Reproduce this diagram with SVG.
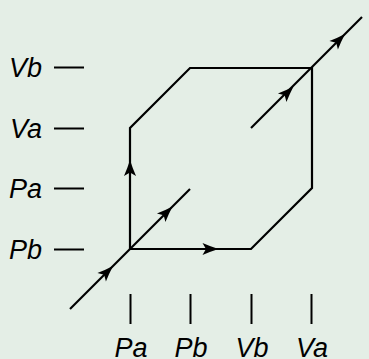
<svg xmlns="http://www.w3.org/2000/svg" xmlns:xlink="http://www.w3.org/1999/xlink" width="369" height="359" viewBox="0 0 369 359">
<style>
.ln{stroke:#000;stroke-width:2.2;fill:none;stroke-linecap:butt;stroke-linejoin:miter}
.tk{stroke:#000;stroke-width:2;fill:none}
.lb{font-family:"Liberation Sans",Arial,sans-serif;font-style:italic;font-size:27px;fill:#000}
</style>
<defs>
<path id="ah" d="M0,0 Q-8,-2.5 -16,-6 L-12.5,0 L-16,6 Q-8,2.5 0,0 Z" fill="#000"/>
</defs>
<rect width="369" height="359" fill="#e4eee6"/>
<g id="left-axis">
<g id="lab-Vb"><text class="lb" x="42" y="77" text-anchor="end">Vb</text><line class="tk" x1="54" y1="67.5" x2="84" y2="67.5"/></g>
<g id="lab-Va"><text class="lb" x="42" y="138" text-anchor="end">Va</text><line class="tk" x1="54" y1="128.5" x2="84" y2="128.5"/></g>
<g id="lab-Pa"><text class="lb" x="42" y="198" text-anchor="end">Pa</text><line class="tk" x1="54" y1="188.5" x2="84" y2="188.5"/></g>
<g id="lab-Pb"><text class="lb" x="42" y="259" text-anchor="end">Pb</text><line class="tk" x1="54" y1="249.5" x2="84" y2="249.5"/></g>
</g>
<g id="bottom-axis">
<g id="blab-Pa"><line class="tk" x1="130.5" y1="294" x2="130.5" y2="324"/><text class="lb" x="131" y="356.5" text-anchor="middle">Pa</text></g>
<g id="blab-Pb"><line class="tk" x1="190.5" y1="294" x2="190.5" y2="324"/><text class="lb" x="191" y="356.5" text-anchor="middle">Pb</text></g>
<g id="blab-Vb"><line class="tk" x1="251.5" y1="294" x2="251.5" y2="324"/><text class="lb" x="252" y="356.5" text-anchor="middle">Vb</text></g>
<g id="blab-Va"><line class="tk" x1="311.5" y1="294" x2="311.5" y2="324"/><text class="lb" x="312" y="356.5" text-anchor="middle">Va</text></g>
</g>
<g id="connectors">
<path class="ln" d="M70,309 L190,189"/>
<path class="ln" d="M130,249 L130,128 L190,68 L312,68 L312,188 L251,249 L130,249"/>
<path class="ln" d="M251,128 L362,17"/>
<use xlink:href="#ah" transform="translate(113,266) rotate(-45)"/>
<use xlink:href="#ah" transform="translate(172.5,206.5) rotate(-45)"/>
<use xlink:href="#ah" transform="translate(130,160) rotate(-90)"/>
<use xlink:href="#ah" transform="translate(218.5,249) rotate(0)"/>
<use xlink:href="#ah" transform="translate(293.5,86.5) rotate(-45)"/>
<use xlink:href="#ah" transform="translate(345,34) rotate(-45)"/>
</g>
</svg>
